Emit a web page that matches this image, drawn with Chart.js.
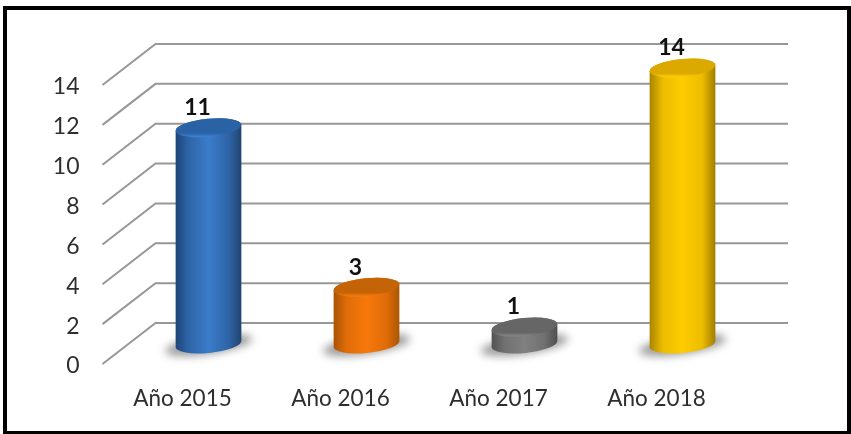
<!DOCTYPE html>
<html>
<head>
<meta charset="utf-8">
<title>Año</title>
<script src="https://cdn.jsdelivr.net/npm/chart.js@4"></script>
<style>
    html, body { margin: 0; padding: 0; background: #fff; overflow: hidden; }
    #wrap { position: relative; width: 851px; height: 434px; }
    #chart { position: absolute; left: 0; top: 0; filter: blur(0.5px); }
    #frame {
        position: absolute; left: 3px; top: 6px; right: 0; bottom: 0;
        border: 4px solid #000; border-bottom-width: 3px; box-sizing: border-box;
        pointer-events: none;
    }
</style>
</head>
<body>
<div id="wrap">
    <canvas id="chart" width="851" height="434"></canvas>
    <div id="frame"></div>
</div>
<script>
const categories = ['Año 2015', 'Año 2016', 'Año 2017', 'Año 2018'];
const values = [11, 3, 1, 14];
const tickLabels = ['0', '2', '4', '6', '8', '10', '12', '14'];

const FONT = 'Lato, "Open Sans", sans-serif';
const TEXT_COLOR = '#2e2e2e';
const GRID_COLOR = '#979797';

// edge / shade / centre of the body, then top face and its lit rim
const palette = [
    { left: '#1d4577', shade: '#2e65a8', mid: '#3b7cc9', right: '#1f446f', top: '#2a62a6', rim: '#3f82d2' },
    { left: '#a85404', shade: '#e06c08', mid: '#f7780b', right: '#ab5604', top: '#c56407', rim: '#f47a10' },
    { left: '#525252', shade: '#717171', mid: '#808080', right: '#4e4e4e', top: '#666666', rim: '#858585' },
    { left: '#a98300', shade: '#ecbc00', mid: '#ffcc00', right: '#a07c00', top: '#dba900', rim: '#ffcf0a' },
];

// fake 3D depth
const DEPTH_X = 53;
const DEPTH_Y = -41;
const WALL_RIGHT = 788;
const BAR_SHIFT_X = 26;
const BAR_TOP_SHIFT_Y = -17;
const BAR_BASE_SHIFT_Y = -20;
const TILT = -5.5 * Math.PI / 180;
const ELLIPSE_RY = 9;

// back wall lines and the diagonals going to the front edge
const wallPlugin = {
    id: 'wall',
    beforeDatasetsDraw(chart) {
        const { ctx, chartArea, scales } = chart;
        ctx.save();
        ctx.strokeStyle = GRID_COLOR;
        scales.y.ticks.forEach(tick => {
            const y = scales.y.getPixelForValue(tick.value);
            ctx.lineWidth = 2;
            ctx.beginPath();
            ctx.moveTo(chartArea.left - 1, y);
            ctx.lineTo(chartArea.left - 1 + DEPTH_X, y + DEPTH_Y);
            ctx.lineTo(WALL_RIGHT, y + DEPTH_Y);
            ctx.stroke();
        });
        ctx.restore();
    }
};

// bars are positioned by the library, only the cylinder look is drawn here
const cylinderPlugin = {
    id: 'cylinder',
    afterDatasetsDraw(chart) {
        const { ctx } = chart;
        const bars = chart.getDatasetMeta(0).data;
        bars.forEach((bar, i) => {
            const c = palette[i];
            const rx = bar.width / 2;
            const cx = bar.x + BAR_SHIFT_X;
            const topY = bar.y + BAR_TOP_SHIFT_Y;
            const baseY = bar.base + BAR_BASE_SHIFT_Y;

            // floor shadow
            ctx.save();
            ctx.filter = 'blur(4px)';
            ctx.fillStyle = 'rgba(120, 120, 120, 0.75)';
            ctx.beginPath();
            ctx.ellipse(cx, baseY + 1, rx + 11, 9, TILT * 1.5, 0, Math.PI * 2);
            ctx.fill();
            ctx.restore();

            // body
            const body = ctx.createLinearGradient(cx - rx, 0, cx + rx, 0);
            body.addColorStop(0, c.left);
            body.addColorStop(0.2, c.shade);
            body.addColorStop(0.5, c.mid);
            body.addColorStop(0.8, c.shade);
            body.addColorStop(1, c.right);
            ctx.fillStyle = body;
            ctx.beginPath();
            ctx.ellipse(cx, baseY, rx, ELLIPSE_RY, TILT, 0, Math.PI);
            ctx.ellipse(cx, topY, rx, ELLIPSE_RY, TILT, Math.PI, Math.PI * 2);
            ctx.closePath();
            ctx.fill();

            // top face
            const face = ctx.createLinearGradient(0, topY - ELLIPSE_RY, 0, topY + ELLIPSE_RY);
            face.addColorStop(0, c.top);
            face.addColorStop(0.8, c.top);
            face.addColorStop(1, c.rim);
            ctx.fillStyle = face;
            ctx.beginPath();
            ctx.ellipse(cx, topY, rx, ELLIPSE_RY, TILT, 0, Math.PI * 2);
            ctx.fill();

            // value above the bar
            ctx.fillStyle = '#111111';
            ctx.font = 'bold 23px ' + FONT;
            ctx.textAlign = 'center';
            ctx.textBaseline = 'middle';
            ctx.fillText(String(values[i]), cx - 11, topY - 20);
        });
    }
};

new Chart(document.getElementById('chart').getContext('2d'), {
    type: 'bar',
    data: {
        labels: categories,
        datasets: [{
            data: values,
            backgroundColor: 'transparent',
            barPercentage: 1,
            categoryPercentage: 0.418,
        }],
    },
    options: {
        responsive: false,
        animation: false,
        layout: { padding: { top: 85, right: 115.5, bottom: 0, left: 0 } },
        plugins: { legend: { display: false }, tooltip: { enabled: false } },
        scales: {
            x: {
                grid: { display: false, drawTicks: false },
                border: { display: false },
                afterFit: scale => { scale.height = 70; },
                ticks: {
                    color: TEXT_COLOR,
                    padding: 21,
                    maxRotation: 0,
                    font: { family: FONT, size: 22.5 },
                },
            },
            y: {
                min: 0,
                max: 14,
                grid: { display: false, drawTicks: false },
                border: { display: false },
                afterFit: scale => { scale.width = 103.5; },
                ticks: {
                    stepSize: 2,
                    color: TEXT_COLOR,
                    padding: 24,
                    labelOffset: 2,
                    font: { family: FONT, size: 23 },
                    callback: (value, index) => tickLabels[index],
                },
            },
        },
    },
    plugins: [wallPlugin, cylinderPlugin],
});
</script>
</body>
</html>
